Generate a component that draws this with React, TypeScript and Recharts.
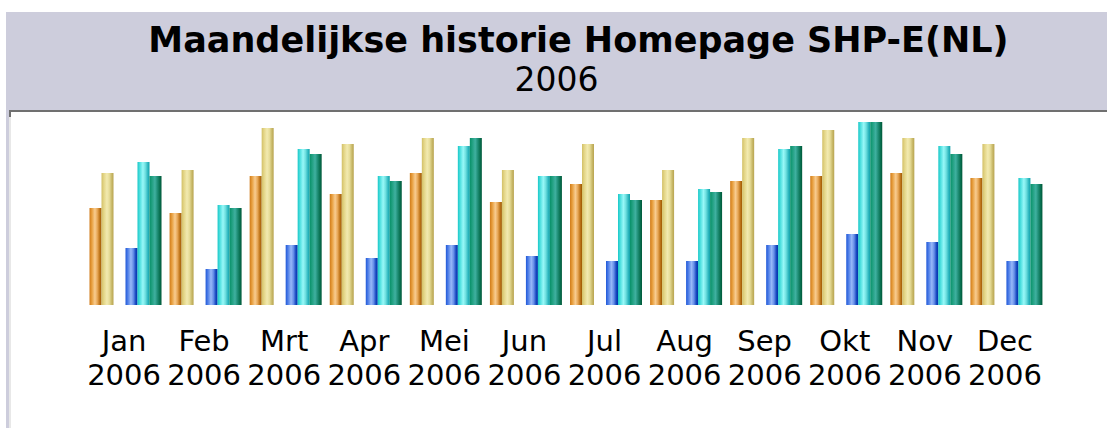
import React from 'react';
import { BarChart, Bar, XAxis, YAxis } from 'recharts';

const months = ['Jan', 'Feb', 'Mrt', 'Apr', 'Mei', 'Jun', 'Jul', 'Aug', 'Sep', 'Okt', 'Nov', 'Dec'];
const yearLabel = '2006';
const seriesA = [97, 92, 129, 111, 132, 103, 121, 105, 124, 129, 132, 127];
const seriesB = [132, 135, 177, 161, 167, 135, 161, 135, 167, 175, 167, 161];
const seriesC = [57, 36, 60, 47, 60, 49, 44, 44, 60, 71, 63, 44];
const seriesD = [143, 100, 156, 129, 159, 129, 111, 116, 156, 183, 159, 127];
const seriesE = [129, 97, 151, 124, 167, 129, 105, 113, 159, 183, 151, 121];

const data = months.map((m, i) => ({
  name: m,
  a: seriesA[i],
  b: seriesB[i],
  c: seriesC[i],
  d: seriesD[i],
  e: seriesE[i],
}));

const gradients: { id: string; stops: [string, string][] }[] = [
  { id: 'gA', stops: [['0%', '#d07a18'], ['20%', '#e8a040'], ['45%', '#f8cc90'], ['65%', '#e8a858'], ['82%', '#c47a20'], ['100%', '#9c5800']] },
  { id: 'gB', stops: [['0%', '#d2c068'], ['20%', '#e4d688'], ['45%', '#f2eab0'], ['65%', '#e6dc98'], ['85%', '#c8b868'], ['100%', '#b8a450']] },
  { id: 'gC', stops: [['0%', '#2058d8'], ['20%', '#5080e8'], ['45%', '#98b8f8'], ['65%', '#6890e8'], ['85%', '#1848c0'], ['100%', '#0030a8']] },
  { id: 'gD', stops: [['0%', '#18c8c8'], ['20%', '#50e0e0'], ['45%', '#98f8f8'], ['65%', '#70e0e0'], ['85%', '#30b8c0'], ['100%', '#10a0a8']] },
  { id: 'gE', stops: [['0%', '#089068'], ['20%', '#20a080'], ['45%', '#40b0a0'], ['65%', '#209078'], ['85%', '#087050'], ['100%', '#005838']] },
];

const Tick = (props: any) => {
  const { x, y, payload } = props;
  return (
    <g>
      <text x={x} y={y + 46} textAnchor="middle" fontFamily="DejaVu Sans" fontSize={29} fill="#000">
        {payload.value}
      </text>
      <text x={x} y={y + 80} textAnchor="middle" fontFamily="DejaVu Sans" fontSize={29} fill="#000">
        {yearLabel}
      </text>
    </g>
  );
};

export default function App() {
  return (
    <div style={{ position: 'absolute', left: 0, top: 0, width: 1107, height: 428, background: '#fff', overflow: 'hidden' }}>
      <div style={{ position: 'absolute', left: 6, top: 12, width: 1101, height: 98, background: '#cdcddc' }} />
      <div style={{ position: 'absolute', left: 6, top: 110, width: 3, height: 318, background: '#cdcddc' }} />
      <div style={{ position: 'absolute', left: 9, top: 110, width: 1098, height: 2, background: '#707070' }} />
      <div style={{ position: 'absolute', left: 9, top: 112, width: 2, height: 5, background: '#707070' }} />
      <div style={{ position: 'absolute', left: 9, top: 117, width: 2, height: 311, background: '#e8e8e8' }} />
      <div
        style={{
          position: 'absolute',
          left: 0,
          top: 20,
          width: 1157,
          textAlign: 'center',
          fontFamily: 'DejaVu Sans',
          fontWeight: 'bold',
          fontSize: 35,
          lineHeight: '40px',
          color: '#000',
          whiteSpace: 'nowrap',
        }}
      >
        Maandelijkse historie Homepage SHP-E(NL)
      </div>
      <div
        style={{
          position: 'absolute',
          left: 6,
          top: 60,
          width: 1101,
          textAlign: 'center',
          fontFamily: 'DejaVu Sans',
          fontSize: 33,
          lineHeight: '40px',
          color: '#000',
        }}
      >
        2006
      </div>
      <div style={{ position: 'absolute', left: 0, top: 0 }}>
        <BarChart
          width={1107}
          height={428}
          data={data}
          margin={{ top: 112, right: 62, bottom: 43, left: 84 }}
          barGap={0}
          barCategoryGap={5.5}
        >
          <defs>
            {gradients.map((g) => (
              <linearGradient key={g.id} id={g.id} x1="0" y1="0" x2="1" y2="0">
                {g.stops.map(([o, c]) => (
                  <stop key={o} offset={o} stopColor={c} />
                ))}
              </linearGradient>
            ))}
          </defs>
          <XAxis
            dataKey="name"
            height={80}
            axisLine={false}
            tickLine={false}
            tickSize={0}
            tickMargin={0}
            interval={0}
            tick={<Tick />}
          />
          <YAxis hide domain={[0, 193]} />
          <Bar dataKey="a" fill="url(#gA)" isAnimationActive={false} />
          <Bar dataKey="b" fill="url(#gB)" isAnimationActive={false} />
          <Bar dataKey="gap" fill="none" isAnimationActive={false} />
          <Bar dataKey="c" fill="url(#gC)" isAnimationActive={false} />
          <Bar dataKey="d" fill="url(#gD)" isAnimationActive={false} />
          <Bar dataKey="e" fill="url(#gE)" isAnimationActive={false} />
        </BarChart>
      </div>
    </div>
  );
}
